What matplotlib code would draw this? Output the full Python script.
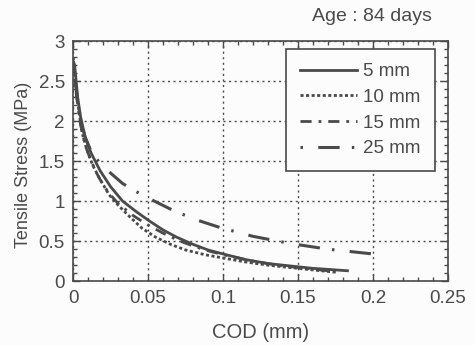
import matplotlib.pyplot as plt
from matplotlib.ticker import MultipleLocator

plt.rcParams["font.family"] = ["Liberation Sans", "DejaVu Sans"]

# COD (mm) / tensile stress (MPa)
cod_5 = [0, 0.001, 0.002, 0.003, 0.005, 0.008, 0.012, 0.018, 0.025, 0.033, 0.042,
         0.051, 0.06, 0.069, 0.08, 0.09, 0.1, 0.115, 0.13, 0.145, 0.16, 0.172, 0.183]
stress_5 = [2.75, 2.7, 2.5, 2.3, 2.05, 1.8, 1.6, 1.38, 1.18, 1.0, 0.87,
            0.75, 0.64, 0.55, 0.46, 0.39, 0.34, 0.27, 0.22, 0.19, 0.16, 0.145, 0.13]

cod_10 = [0, 0.001, 0.002, 0.004, 0.006, 0.009, 0.013, 0.018, 0.024, 0.03, 0.038,
          0.046, 0.055, 0.065, 0.075, 0.088, 0.1, 0.115, 0.13, 0.145, 0.16, 0.176]
stress_10 = [2.8, 2.6, 2.4, 2.1, 1.85, 1.65, 1.45, 1.27, 1.08, 0.95, 0.8,
             0.66, 0.55, 0.46, 0.39, 0.33, 0.29, 0.24, 0.2, 0.17, 0.14, 0.11]

cod_15 = [0, 0.001, 0.003, 0.005, 0.008, 0.012, 0.017, 0.023, 0.03, 0.04, 0.05,
          0.06, 0.07, 0.08, 0.09, 0.1, 0.12, 0.14, 0.16, 0.175]
stress_15 = [2.7, 2.5, 2.2, 1.95, 1.7, 1.5, 1.3, 1.12, 0.97, 0.82, 0.7,
             0.6, 0.51, 0.44, 0.38, 0.33, 0.25, 0.19, 0.15, 0.12]

cod_25 = [0, 0.001, 0.003, 0.005, 0.008, 0.012, 0.018, 0.025, 0.033, 0.042, 0.051,
          0.065, 0.08, 0.098, 0.12, 0.145, 0.17, 0.19, 0.2]
stress_25 = [2.75, 2.55, 2.25, 2.0, 1.8, 1.62, 1.47, 1.35, 1.22, 1.12, 1.03,
             0.9, 0.78, 0.67, 0.56, 0.47, 0.4, 0.36, 0.34]

labels = ["5 mm", "10 mm", "15 mm", "25 mm"]

ink = "#4a4a4a"

fig = plt.figure(figsize=(4.75, 3.45), dpi=100)
fig.patch.set_facecolor("#fcfcfc")
ax = fig.add_axes([0.154, 0.185, 0.789, 0.696])
ax.set_facecolor("#fcfcfc")

ax.plot(cod_5, stress_5, color=ink, lw=2, label=labels[0])
ax.plot(cod_10, stress_10, color=ink, lw=2, linestyle=(0, (1.1, 0.9)), label=labels[1])
ax.plot(cod_15, stress_15, color=ink, lw=2, linestyle=(0, (4, 2.5, 1, 2.5)), label=labels[2])
ax.plot(cod_25, stress_25, color=ink, lw=2.2, linestyle=(0, (0.8, 5, 7, 4)), label=labels[3])

ax.set_xlim(0, 0.25)
ax.set_ylim(0, 3)
ax.xaxis.set_major_locator(MultipleLocator(0.05))
ax.xaxis.set_minor_locator(MultipleLocator(0.01))
ax.yaxis.set_major_locator(MultipleLocator(0.5))
ax.yaxis.set_minor_locator(MultipleLocator(0.1))
ax.xaxis.set_major_formatter(plt.FuncFormatter(lambda v, p: f"{v:g}"))
ax.yaxis.set_major_formatter(plt.FuncFormatter(lambda v, p: f"{v:g}"))

ax.tick_params(which="both", direction="in", top=True, right=True,
               colors=ink, labelsize=13.5, width=1)
ax.tick_params(which="major", length=5, pad=6)
ax.tick_params(which="minor", length=3)
for s in ax.spines.values():
    s.set_color(ink)
    s.set_linewidth(1.2)

ax.grid(True, which="major", color=ink, linestyle=(0, (1.5, 2.5)), linewidth=1)

ax.set_xlabel("COD (mm)", fontsize=14.5, color=ink, labelpad=12)
ax.set_ylabel("Tensile Stress (MPa)", fontsize=13, color=ink)
ax.yaxis.set_label_coords(-0.11, 0.483)

fig.text(0.91, 0.952, "Age : 84 days", fontsize=14, color=ink, ha="right", va="center")

leg = ax.legend(loc="upper right", bbox_to_anchor=(0.965, 0.967), borderaxespad=0,
                fontsize=13.5, handlelength=3.0, labelspacing=0.46, borderpad=0.75,
                handletextpad=0.35, fancybox=False, framealpha=1,
                edgecolor=ink, labelcolor=ink)
leg.get_frame().set_linewidth(1.2)
leg.get_frame().set_facecolor("#fcfcfc")

fig.savefig("out.png", dpi=100, facecolor=fig.get_facecolor())
